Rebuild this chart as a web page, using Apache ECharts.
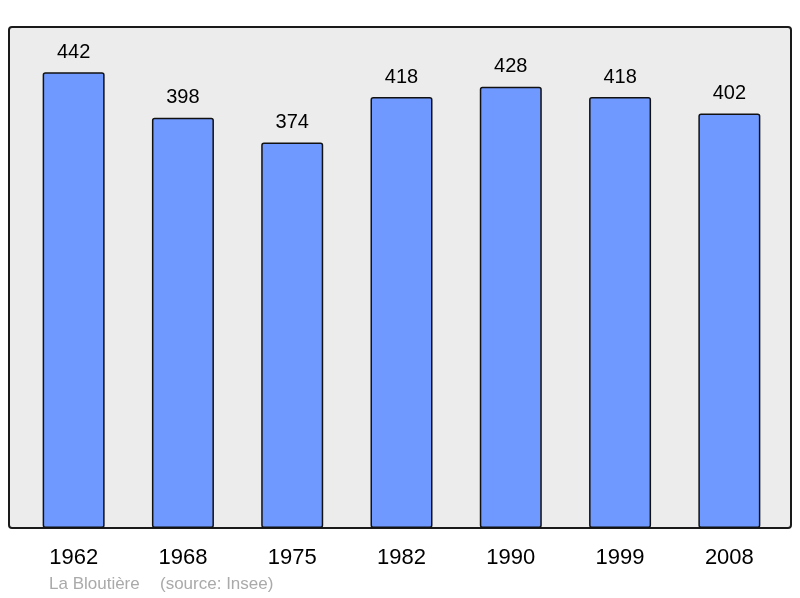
<!DOCTYPE html>
<html>
<head>
<meta charset="utf-8">
<script src="https://cdn.jsdelivr.net/npm/echarts@6/dist/echarts.min.js"></script>
<style>
    html, body {margin: 0; padding: 0; background: #fff;}
    #chart {width: 800px; height: 598px;}
</style>
</head>
<body>
<div id="chart"></div>
<script>
// population data
const years = ['1962', '1968', '1975', '1982', '1990', '1999', '2008'];
const population = [442, 398, 374, 418, 428, 418, 402];
const townName = 'La Bloutière';
const sourceText = '(source: Insee)';

const fontFamily = '"Liberation Sans", Arial, sans-serif';
const chart = echarts.init(document.getElementById('chart'), null, {renderer: 'canvas'});

chart.setOption({
    animation: false,
    graphic: [
        {
            type: 'rect',
            z: -10,
            shape: {x: 9, y: 27, width: 782, height: 501, r: 3},
            style: {fill: '#ececec', stroke: '#1a1a1a', lineWidth: 2}
        },
        {
            type: 'text',
            left: 49,
            top: 576,
            style: {text: townName, fill: '#aaaaaa', font: '17px ' + fontFamily}
        },
        {
            type: 'text',
            left: 160,
            top: 576,
            style: {text: sourceText, fill: '#aaaaaa', font: '17px ' + fontFamily}
        }
    ],
    grid: {left: 19, right: 16, top: 27, bottom: 70},
    xAxis: {
        type: 'category',
        data: years,
        axisLine: {show: false},
        axisTick: {show: false},
        axisLabel: {
            color: '#000',
            fontSize: 22,
            fontFamily: fontFamily,
            margin: 19
        }
    },
    yAxis: {
        type: 'value',
        min: 0,
        max: 486,
        show: false,
        splitLine: {show: false}
    },
    series: [{
        type: 'bar',
        data: population,
        barWidth: 62,
        itemStyle: {
            color: '#7099ff',
            borderColor: '#111',
            borderWidth: 1.5,
            borderRadius: 2
        },
        label: {
            show: true,
            position: 'top',
            distance: 10,
            color: '#000',
            fontSize: 20,
            fontFamily: fontFamily
        }
    }]
});
</script>
</body>
</html>
